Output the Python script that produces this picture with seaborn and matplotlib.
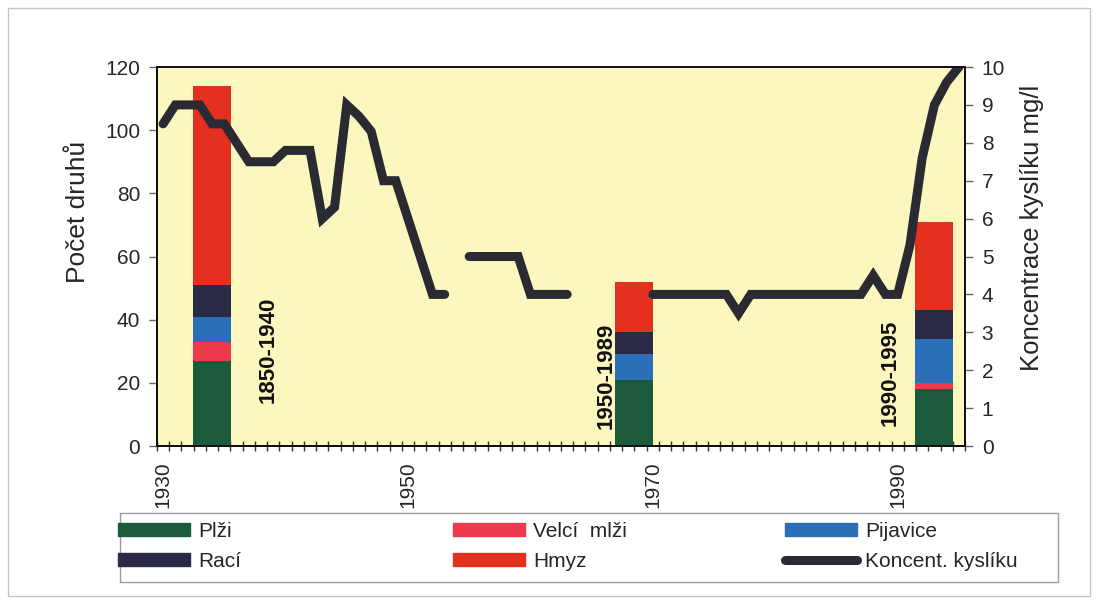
import numpy as np
import pandas as pd
import matplotlib
matplotlib.use("Agg")
import matplotlib.pyplot as plt
from matplotlib.patches import Patch, Rectangle
from matplotlib.lines import Line2D
import seaborn as sns

# --- species counts per period (stacked bars, left axis) ---
obdobi = ["1850-1940", "1950-1989", "1990-1995"]
pozice = [1934.0, 1968.5, 1993.0]          # bar centres on the year axis
plzi = [27, 21, 18]
velci_mlzi = [6, 0, 2]
pijavice = [8, 8, 14]
raci = [10, 7, 9]
hmyz = [63, 16, 28]

# --- oxygen concentration in mg/l (line, right axis); NaN = no data ---
roky = list(range(1930, 1996))
kyslik = [
    8.5, 9.0, 9.0, 9.0, 8.5, 8.5, 8.0, 7.5, 7.5, 7.5,      # 1930-1939
    7.8, 7.8, 7.8, 6.0, 6.3, 9.0, 8.7, 8.3, 7.0, 7.0,      # 1940-1949
    6.0, 5.0, 4.0, 4.0, np.nan, 5.0, 5.0, 5.0, 5.0, 5.0,   # 1950-1959
    4.0, 4.0, 4.0, 4.0, np.nan, np.nan, np.nan, np.nan, np.nan, np.nan,  # 1960-1969
    4.0, 4.0, 4.0, 4.0, 4.0, 4.0, 4.0, 3.5, 4.0, 4.0,      # 1970-1979
    4.0, 4.0, 4.0, 4.0, 4.0, 4.0, 4.0, 4.0, 4.5, 4.0,      # 1980-1989
    4.0, 5.3, 7.6, 9.0, 9.6, 10.0,                         # 1990-1995
]

# labels
skupiny = ["Plži", "Velcí  mlži", "Pijavice", "Rací", "Hmyz"]
popisek_kyslik = "Koncent. kyslíku"
osa_x_popisky = [1930, 1950, 1970, 1990]

barvy = {
    "Plži": "#1d5a3c",
    "Velcí  mlži": "#ee3a4c",
    "Pijavice": "#2a6fb8",
    "Rací": "#2b2a46",
    "Hmyz": "#e4301f",
}
barva_cary = "#2a2a33"
pozadi = "#fcf6bf"

sns.set_style("white")
plt.rcParams["font.family"] = ["Liberation Sans", "DejaVu Sans"]

fig = plt.figure(figsize=(10.97, 6.01), dpi=100)
fig.patch.set_facecolor("white")
ax = fig.add_axes([0.1431, 0.2579, 0.7366, 0.6306])
ax.set_facecolor(pozadi)

# stacked bars: draw cumulative heights from the top layer down
vrstvy = [plzi, velci_mlzi, pijavice, raci, hmyz]
kumul = np.cumsum(np.array(vrstvy, dtype=float), axis=0)
# seaborn scales native-scale widths by the smallest gap between bars
sirka = 3.1 / np.min(np.diff(pozice))
for i in range(len(skupiny) - 1, -1, -1):
    sns.barplot(x=pozice, y=kumul[i], native_scale=True, color=barvy[skupiny[i]],
                saturation=1, width=sirka, errorbar=None, linewidth=0, ax=ax)

ax.set_xlim(1929.5, 1995.5)
ax.set_ylim(0, 120)
ax.set_yticks(range(0, 121, 20))
ax.set_xticks(osa_x_popisky)
ax.set_xticklabels([str(r) for r in osa_x_popisky], rotation=90)
ax.set_xticks(np.arange(1929.5, 1996, 1.0), minor=True)
ax.tick_params(axis="x", which="major", length=0, pad=11, labelsize=15)
ax.tick_params(axis="x", which="minor", direction="inout", length=7, width=1,
               color="#333333", bottom=True)
ax.tick_params(axis="y", which="major", direction="out", length=6, width=1,
               color="#666666", pad=6, labelsize=15, left=True)
ax.set_xlabel("")
ax.set_ylabel("Počet druhů", fontsize=19)
ax.yaxis.set_label_coords(-0.0835, 0.617)

# period captions next to the bars
popisy_xy = [(1938.55, 30.4), (1966.2, 22.2), (1989.4, 23.1)]
for text, (px, py) in zip(obdobi, popisy_xy):
    ax.text(px, py, text, rotation=90, ha="center", va="center",
            fontsize=16, fontweight="bold", color="#111111")

# oxygen line on the right axis
ax2 = ax.twinx()
df = pd.DataFrame({"rok": roky, "kyslik": kyslik})
df["usek"] = df["kyslik"].isna().cumsum()
df = df.dropna()
sns.lineplot(data=df, x="rok", y="kyslik", units="usek", estimator=None,
             color=barva_cary, linewidth=6.5, solid_joinstyle="miter",
             legend=False, ax=ax2)
ax2.set_ylim(0, 10)
ax2.set_yticks(range(0, 11))
ax2.set_xlim(1929.5, 1995.5)
ax2.tick_params(axis="y", which="major", direction="out", length=6, width=1,
                color="#666666", pad=6, labelsize=15, right=True)
ax2.set_xlabel("")
ax2.set_ylabel("Koncentrace kyslíku mg/l", fontsize=18.5)
ax2.yaxis.set_label_coords(1.068, 0.575)

for a in (ax, ax2):
    for s in a.spines.values():
        s.set_color("#111111")
        s.set_linewidth(1.4)

# legend: three columns of two entries
fs = 15
common = dict(loc="upper left", bbox_transform=fig.transFigure, frameon=False,
              borderpad=0, borderaxespad=0, fontsize=fs, handlelength=3.46,
              handleheight=0.58, handletextpad=0.38, labelspacing=0.54)
sloupce = [
    ([Patch(color=barvy["Plži"]), Patch(color=barvy["Rací"])], ["Plži", "Rací"], 118),
    ([Patch(color=barvy["Velcí  mlži"]), Patch(color=barvy["Hmyz"])], ["Velcí  mlži", "Hmyz"], 453),
    ([Patch(color=barvy["Pijavice"]), Line2D([], [], color=barva_cary, lw=6.5)],
     ["Pijavice", popisek_kyslik], 785),
]
for handles, labels, xpix in sloupce:
    fig.legend(handles=handles, labels=labels,
               bbox_to_anchor=(xpix / 1097, 1 - 522 / 601), **common)

# legend frame and outer chart border
fig.patches.append(Rectangle((120 / 1097, 1 - 582 / 601), 938 / 1097, 69 / 601,
                             transform=fig.transFigure, fill=False,
                             ec="#9a9a9a", lw=1))
fig.patches.append(Rectangle((8 / 1097, 5 / 601), 1082 / 1097, 588 / 601,
                             transform=fig.transFigure, fill=False,
                             ec="#c4c4c4", lw=1))

fig.savefig("out.png", dpi=100, facecolor="white")
